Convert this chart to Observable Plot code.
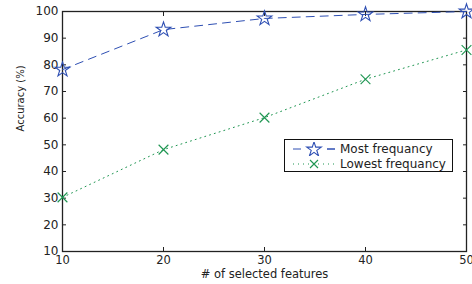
<!DOCTYPE html>
<html><head><meta charset="utf-8">
<script src="https://cdn.jsdelivr.net/npm/d3@7"></script>
<script src="https://cdn.jsdelivr.net/npm/@observablehq/plot@0.6"></script>
<style>
body{margin:0;background:#fff;font-family:"DejaVu Sans",sans-serif;}
#wrap{position:relative;width:472px;height:284px;}
#legend{position:absolute;left:284px;top:139px;width:169px;height:33px;border:1px solid #111;background:#fff;font-size:12px;color:#222;box-sizing:border-box;}
#legend .row{position:absolute;left:0;height:15px;display:flex;align-items:center;}
#legend svg{margin-left:7px;margin-right:4px;}
</style></head>
<body><div id="wrap"></div>
<script>
const features = [10, 20, 30, 40, 50];
const mostFreq = [78.2, 93.2, 97.4, 98.9, 100];
const lowestFreq = [30.3, 48.2, 60.2, 74.6, 85.6];
const seriesNames = ["Most frequancy", "Lowest frequancy"];
const yTicks = [10,20,30,40,50,60,70,80,90,100];
const xTicks = [10,20,30,40,50];

const blue = "#2e4fb3", green = "#1f9652";
const most = features.map((f,i)=>({x:f,y:mostFreq[i]}));
const low = features.map((f,i)=>({x:f,y:lowestFreq[i]}));

const chart = Plot.plot({
  width: 472, height: 284,
  marginLeft: 62, marginRight: 6, marginTop: 11, marginBottom: 33,
  style: {fontFamily: '"DejaVu Sans",sans-serif', fontSize: "12px", color: "#222"},
  x: {domain: [10, 50]},
  y: {domain: [10, 100]},
  marks: [
    Plot.frame({stroke: "#222", strokeWidth: 1.3}),
    Plot.axisY({ticks: yTicks, tickSize: -4, tickPadding: 8, label: null}),
    Plot.axisY({anchor: "right", ticks: yTicks, tickSize: -4, tickFormat: () => "", label: null}),
    Plot.axisX({ticks: xTicks, tickSize: -4, tickPadding: 8, label: null, fontSize: 11.5}),
    Plot.axisX({anchor: "top", ticks: xTicks, tickSize: -4, tickFormat: () => "", label: null}),
    Plot.text(["Accuracy (%)"], {frameAnchor: "left", rotate: -90, dx: -42, fontSize: 10}),
    Plot.text(["# of selected features"], {frameAnchor: "bottom", dy: 26, fontSize: 11.5}),
    Plot.line(most, {x: "x", y: "y", stroke: blue, strokeWidth: 1, strokeDasharray: "8,6"}),
    Plot.dot(most, {x: "x", y: "y", symbol: "star", stroke: blue, fill: "none", r: 4.6, strokeWidth: 1.1}),
    Plot.line(low, {x: "x", y: "y", stroke: green, strokeWidth: 1, strokeDasharray: "1,4"}),
    Plot.dot(low, {x: "x", y: "y", symbol: "times", stroke: green, r: 4.5, strokeWidth: 1.1})
  ]
});
const wrap = document.getElementById("wrap");
wrap.appendChild(chart);

const leg = document.createElement("div");
leg.id = "legend";
const sym = [
  `<svg width="44" height="14"><line x1="1" y1="7" x2="43" y2="7" stroke="${blue}" stroke-dasharray="8,26"/><line x1="35" y1="7" x2="43" y2="7" stroke="${blue}"/><path d="${d3.symbol(d3.symbolStar, 66)()}" transform="translate(22,7.5)" fill="none" stroke="${blue}" stroke-width="1.1"/></svg>`,
  `<svg width="44" height="14"><line x1="1" y1="7" x2="43" y2="7" stroke="${green}" stroke-dasharray="1,4"/><path d="M-4,-4L4,4M-4,4L4,-4" transform="translate(22,7)" fill="none" stroke="${green}" stroke-width="1.1"/></svg>`
];
seriesNames.forEach((n,i)=>{
  const r = document.createElement("div");
  r.className = "row";
  r.style.top = (1 + i*15) + "px";
  r.innerHTML = sym[i] + `<span>${n}</span>`;
  leg.appendChild(r);
});
wrap.appendChild(leg);
</script></body></html>
